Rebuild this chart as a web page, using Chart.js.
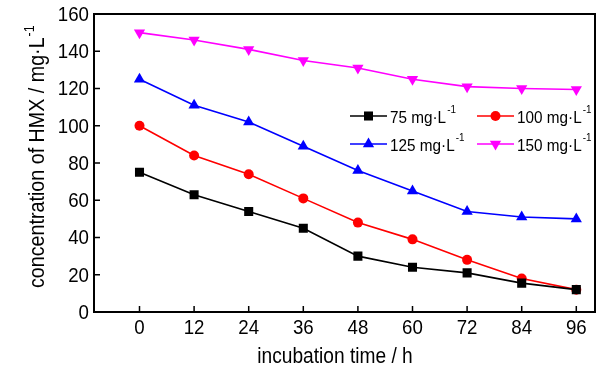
<!DOCTYPE html>
<html>
<head>
<meta charset="utf-8">
<script src="https://cdn.jsdelivr.net/npm/chart.js@4/dist/chart.umd.min.js"></script>
<style>
  html, body { margin: 0; padding: 0; background: #fff; overflow: hidden; }
  canvas { display: block; }
</style>
</head>
<body>
<canvas id="hmxChart" width="601" height="371"></canvas>
<script>
// incubation time (h)
const horas = [0, 12, 24, 36, 48, 60, 72, 84, 96];
// HMX concentration (mg/L) for each starting dose
const c75  = [75, 63, 54, 45, 30, 24, 21, 15.5, 12];
const c100 = [100, 84, 74, 61, 48, 39, 28, 18, 12];
const c125 = [125, 111, 102, 89, 76, 65, 54, 51, 50];
const c150 = [150, 146, 141, 135, 131, 125, 121, 120, 119.5];
const seriesNames = ['75 mg·L', '100 mg·L', '125 mg·L', '150 mg·L'];
const xTicks = [0, 12, 24, 36, 48, 60, 72, 84, 96];
const yTicks = [0, 20, 40, 60, 80, 100, 120, 140, 160];

const FONT = "'Liberation Sans', Arial, sans-serif";

const pts = arr => arr.map((v, i) => ({ x: horas[i], y: v }));

const estilos = [
    { color: '#000000', pointStyle: 'rect', radius: 6.4, rotation: 0 },
    { color: '#ff0000', pointStyle: 'circle', radius: 5, rotation: 0 },
    { color: '#0000ff', pointStyle: 'triangle', radius: 6.5, rotation: 0 },
    { color: '#ff00ff', pointStyle: 'triangle', radius: 6.5, rotation: 180 }
];

const datasets = [c75, c100, c125, c150].map((arr, i) => ({
    label: seriesNames[i],
    data: pts(arr),
    borderColor: estilos[i].color,
    backgroundColor: estilos[i].color,
    pointStyle: estilos[i].pointStyle,
    pointRadius: estilos[i].radius,
    pointRotation: estilos[i].rotation,
    pointBorderWidth: 0,
    borderWidth: 1.6,
    tension: 0
}));

// the reference text is narrow, so squeeze it along the line of text
function texto(ctx, str, x, y, size, sx, align) {
    ctx.save();
    ctx.font = size + 'px ' + FONT;
    const w = ctx.measureText(str).width * sx;
    let x0 = x;
    if (align === 'right') x0 = x - w;
    if (align === 'center') x0 = x - w / 2;
    ctx.translate(x0, y);
    ctx.scale(sx, 1);
    ctx.textAlign = 'left';
    ctx.fillText(str, 0, 0);
    ctx.restore();
    return w;
}

// base text followed by a small raised "-1"
function textoSup(ctx, base, x, y, size, sx) {
    const w = texto(ctx, base, x, y, size, sx, 'left');
    texto(ctx, '-1', x + w + 1, y - size * 0.45, Math.round(size * 0.62), sx, 'left');
}

const moldura = {
    id: 'moldura',
    afterDatasetsDraw(chart) {
        const { ctx, scales } = chart;
        const sx = scales.x, sy = scales.y;
        const L = Math.round(sx.left), R = Math.round(sx.right);
        const T = Math.round(sy.top), B = Math.round(sy.bottom);
        ctx.save();
        // box around the plot
        ctx.fillStyle = '#000';
        ctx.fillRect(L - 1, T - 1, R - L + 2, 2);
        ctx.fillRect(L - 1, B - 1, R - L + 2, 2);
        ctx.fillRect(L - 1, T - 1, 2, B - T + 2);
        ctx.fillRect(R - 1, T - 1, 2, B - T + 2);

        // inward ticks
        ctx.strokeStyle = '#000';
        ctx.lineWidth = 1.5;
        ctx.beginPath();
        sx.ticks.forEach(t => {
            const px = sx.getPixelForValue(t.value);
            ctx.moveTo(px, B);
            ctx.lineTo(px, B - 6);
        });
        sy.ticks.forEach(t => {
            const py = sy.getPixelForValue(t.value);
            ctx.moveTo(L, py);
            ctx.lineTo(L + 6, py);
        });
        ctx.stroke();

        // tick labels
        ctx.textBaseline = 'middle';
        sx.ticks.forEach(t => {
            texto(ctx, String(t.value), sx.getPixelForValue(t.value), B + 16, 21, 0.89, 'center');
        });
        sy.ticks.forEach(t => {
            texto(ctx, String(t.value), L - 5, sy.getPixelForValue(t.value) + 1, 21, 0.89, 'right');
        });

        // legend, two columns inside the plot
        const cols = [350, 477];
        const rows = [116, 144];
        chart.data.datasets.forEach((ds, i) => {
            const x0 = cols[i % 2], y0 = rows[Math.floor(i / 2)];
            ctx.strokeStyle = ds.borderColor;
            ctx.lineWidth = 1.6;
            ctx.beginPath();
            ctx.moveTo(x0, y0);
            ctx.lineTo(x0 + 37, y0);
            ctx.stroke();
            ctx.fillStyle = ds.borderColor;
            Chart.helpers.drawPoint(ctx, {
                pointStyle: ds.pointStyle, radius: ds.pointRadius,
                rotation: ds.pointRotation, borderWidth: 0
            }, x0 + 18.5, y0);
            ctx.fillStyle = '#000';
            textoSup(ctx, ds.label, x0 + 40, y0 + 2, 17, 0.9);
        });

        // axis titles
        ctx.textBaseline = 'alphabetic';
        texto(ctx, 'incubation time / h', 335, 363, 22, 0.87, 'center');

        ctx.translate(44, 288);
        ctx.rotate(-Math.PI / 2);
        textoSup(ctx, 'concentration of HMX / mg·L', 0, 0, 22, 0.895);
        ctx.restore();
    }
};

const ctx = document.getElementById('hmxChart').getContext('2d');

new Chart(ctx, {
    type: 'line',
    data: { datasets },
    options: {
        responsive: false,
        animation: false,
        devicePixelRatio: 1,
        layout: { padding: { left: 0, top: 14, right: 5, bottom: 0 } },
        plugins: {
            legend: { display: false },
            tooltip: { enabled: false }
        },
        scales: {
            x: {
                type: 'linear',
                min: -10,
                max: 100,
                afterBuildTicks: s => { s.ticks = xTicks.map(v => ({ value: v })); },
                afterFit: s => { s.height = 59; },
                grid: { display: false },
                border: { display: false },
                ticks: { display: false }
            },
            y: {
                min: 0,
                max: 160,
                afterBuildTicks: s => { s.ticks = yTicks.map(v => ({ value: v })); },
                afterFit: s => { s.width = 94; },
                grid: { display: false },
                border: { display: false },
                ticks: { display: false }
            }
        }
    },
    plugins: [moldura]
});
</script>
</body>
</html>
